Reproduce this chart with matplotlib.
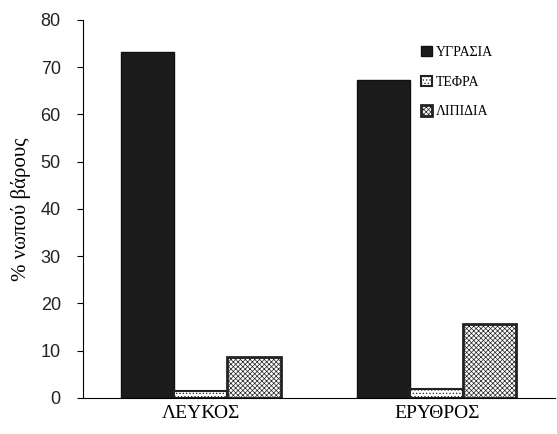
import numpy as np
import matplotlib.pyplot as plt
from matplotlib.patches import Patch

categories = ['ΛΕΥΚΟΣ', 'ΕΡΥΘΡΟΣ']
series_names = ['ΥΓΡΑΣΙΑ', 'ΤΕΦΡΑ', 'ΛΙΠΙΔΙΑ']
ygrasia = [73.2, 67.2]
tefra = [1.5, 1.8]
lipidia = [8.7, 15.6]

plt.rcParams['hatch.linewidth'] = 0.5
fig = plt.figure(figsize=(5.57, 4.34), dpi=100)
ax = fig.add_axes([0.149, 0.083, 0.847, 0.871])

x = np.arange(len(categories))
w = 0.225
styles = [
    dict(facecolor='#1c1c1c', edgecolor='#111111', hatch=None, linewidth=1.0),
    dict(facecolor='white', edgecolor='#222222', hatch='.....', linewidth=1.5),
    dict(facecolor='white', edgecolor='#222222', hatch='xxxxxxx', linewidth=2.0),
]
for i, (vals, st) in enumerate(zip([ygrasia, tefra, lipidia], styles)):
    ax.bar(x + (i - 1) * w, vals, w, label=series_names[i], **st)

ax.set_xlim(-0.5, 1.5)
ax.set_ylim(0, 80)
ax.set_yticks(range(0, 81, 10))
ax.set_yticklabels([str(v) for v in range(0, 81, 10)],
                   fontfamily='Liberation Sans', fontsize=13, color='#222222')
ax.set_xticks(x)
ax.set_xticklabels(categories, fontfamily='Liberation Serif', fontsize=14)
ax.tick_params(axis='x', length=0, pad=5)
ax.tick_params(axis='y', length=4, width=0.8, direction='out', pad=12)
for s in ['top', 'right']:
    ax.spines[s].set_visible(False)
ax.spines['left'].set_linewidth(0.8)
ax.spines['bottom'].set_linewidth(0.8)
ax.set_ylabel('% νωπού βάρους', fontfamily='Liberation Serif', fontsize=15,
              labelpad=7)

handles = [Patch(**st) for st in styles]
ax.legend(handles, series_names, loc='upper left', bbox_to_anchor=(0.69, 0.965),
          frameon=False, prop={'family': 'Liberation Serif', 'size': 10},
          handlelength=0.8, handleheight=0.8, handletextpad=0.25,
          labelspacing=1.2)

fig.savefig('out.png', dpi=100)
